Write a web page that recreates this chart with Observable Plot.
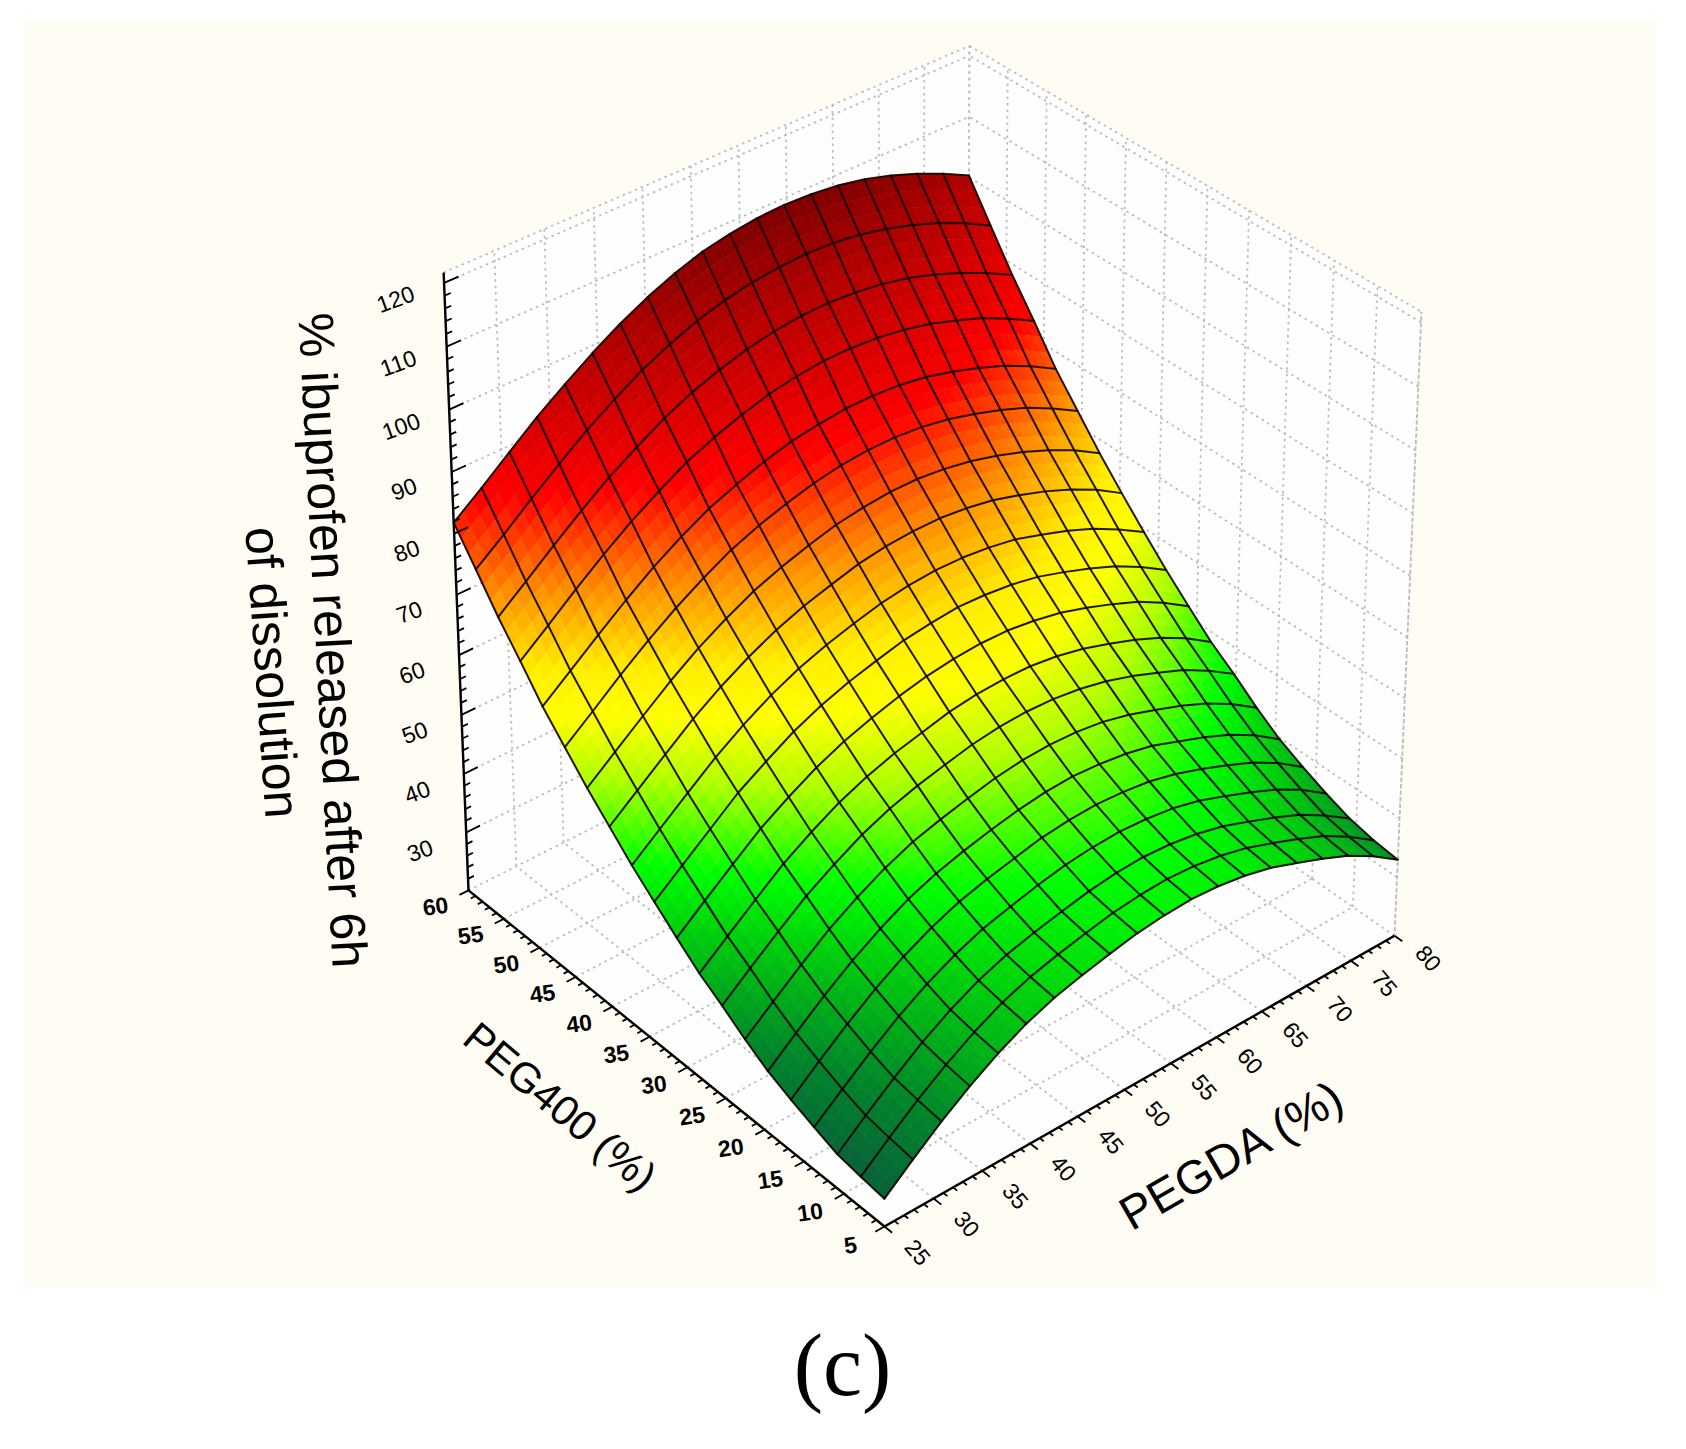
<!DOCTYPE html>
<html>
<head>
<meta charset="utf-8">
<script src="https://cdn.jsdelivr.net/npm/d3@7"></script>
<script src="https://cdn.jsdelivr.net/npm/@observablehq/plot@0.6"></script>
<style>html,body{margin:0;padding:0;background:#fff}svg{display:block}</style>
</head>
<body>
<div id="chart"></div>
<script>
// Axis tick values
const pegdaTicks = [25,30,35,40,45,50,55,60,65,70,75,80];
const peg400Ticks = [5,10,15,20,25,30,35,40,45,50,55,60];
const releaseTicks = [30,40,50,60,70,80,90,100,110,120];
const releaseDomain = [20,121.6];

// % ibuprofen released at each grid node. Rows: PEG400 5 -> 60; columns: PEGDA 25 -> 80.
const release = [
[24.6,28.4,32.0,35.2,38.0,40.3,42.0,43.2,44.2,45.1,45.6,45.8,45.5,44.8,43.7,42.1,40.4,38.5,36.0,33.0],
[25.1,28.9,32.5,35.7,38.5,40.8,42.5,43.7,44.7,45.6,46.1,46.3,46.0,45.3,44.2,42.6,40.9,39.0,36.5,33.5],
[25.7,29.5,33.1,36.4,39.2,41.5,43.2,44.4,45.4,46.3,46.9,47.1,46.8,46.1,45.0,43.4,41.7,39.8,37.3,34.4],
[27.1,30.8,34.4,37.7,40.5,42.8,44.6,45.8,46.9,47.8,48.3,48.5,48.2,47.6,46.5,44.9,43.2,41.3,38.9,35.9],
[28.6,32.4,36.0,39.3,42.1,44.4,46.2,47.5,48.5,49.5,50.0,50.2,49.9,49.3,48.2,46.7,45.0,43.1,40.7,37.7],
[30.3,34.1,37.7,41.0,43.8,46.2,48.0,49.3,50.4,51.3,51.9,52.1,51.8,51.2,50.2,48.6,47.0,45.1,42.7,39.7],
[32.6,36.3,39.9,43.3,46.1,48.5,50.4,51.7,52.8,53.8,54.4,54.6,54.4,53.8,52.7,51.2,49.6,47.7,45.3,42.4],
[35.2,38.9,42.5,45.9,48.7,51.2,53.1,54.5,55.6,56.6,57.2,57.4,57.2,56.6,55.6,54.2,52.5,50.7,48.3,45.5],
[37.6,41.3,44.9,48.4,51.2,53.7,55.6,57.1,58.2,59.3,59.9,60.1,60.0,59.4,58.4,57.0,55.4,53.5,51.2,48.3],
[40.6,44.3,47.9,51.4,54.2,56.7,58.7,60.2,61.5,62.5,63.1,63.4,63.3,62.7,61.8,60.4,58.8,57.0,54.6,51.8],
[43.7,47.3,50.9,54.5,57.3,59.9,61.9,63.5,64.7,65.8,66.4,66.8,66.6,66.1,65.2,63.8,62.2,60.4,58.1,55.4],
[46.9,50.5,54.1,57.6,60.6,63.2,65.3,66.9,68.2,69.3,70.0,70.3,70.2,69.7,68.9,67.5,66.0,64.2,61.9,59.3],
[50.5,54.1,57.7,61.2,64.2,66.8,69.0,70.7,72.0,73.2,73.9,74.2,74.2,73.7,72.9,71.6,70.1,68.3,66.1,63.4],
[54.1,57.7,61.3,64.8,67.9,70.5,72.8,74.5,75.9,77.1,77.8,78.2,78.2,77.7,76.9,75.7,74.2,72.4,70.3,67.7],
[58.1,61.7,65.4,68.8,71.9,74.6,77.0,78.8,80.2,81.4,82.2,82.6,82.6,82.2,81.4,80.2,78.8,77.1,74.9,72.4],
[62.1,65.7,69.3,72.8,76.0,78.8,81.2,83.0,84.6,85.8,86.5,87.0,87.0,86.7,86.0,84.8,83.4,81.7,79.6,77.1],
[66.9,70.5,74.2,77.7,80.9,83.7,86.3,88.2,89.8,91.1,91.9,92.4,92.4,92.1,91.4,90.4,88.9,87.3,85.2,82.8],
[71.5,75.1,78.8,82.3,85.6,88.4,91.0,93.1,94.7,96.0,96.9,97.4,97.5,97.2,96.6,95.6,94.2,92.5,90.5,88.2],
[76.7,80.2,83.9,87.4,90.8,93.7,96.4,98.5,100.3,101.6,102.5,103.0,103.2,103.0,102.4,101.4,100.1,98.5,96.5,94.2],
[81.8,85.3,89.0,92.6,95.8,98.8,101.5,103.8,105.7,107.2,108.1,108.7,108.9,108.7,108.2,107.3,106.0,104.4,102.5,100.3]
];

// Colour ramp of the surface (response -> colour)
const rampValues = [24,32,40,47,55,61,66,74,84,95,100,110];
const rampColors = ["#0a5c3c","#00852a","#00c410","#00ff00","#b0ff00","#ffff00","#ffee00","#ff9000","#ff0000","#c80000","#b00000","#780000"];

// Camera of the box: front floor corner, axis ends, vanishing points
const O=[884,1226],U=[468,890],V=[1394,933],W=[882,576];
const VPu=[-4721,-3303],VPv=[9122,-3470],VPw=[915,12000];
const gu=(U[0]-O[0])/(VPu[0]-U[0]), gv=(V[0]-O[0])/(VPv[0]-V[0]), gw=(W[1]-O[1])/(VPw[1]-W[1]);

const peg400Scale=d3.scaleLinear([5,60],[0,1]);
const pegdaScale=d3.scaleLinear([25,80],[0,1]);
const releaseScale=d3.scaleLinear(releaseDomain,[0,1]);

function project(u,v,w){
  const d=1+gu*u+gv*v+gw*w;
  return [
    (O[0]+gu*VPu[0]*u+gv*VPv[0]*v+gw*VPw[0]*w)/d,
    (O[1]+gu*VPu[1]*u+gv*VPv[1]*v+gw*VPw[1]*w)/d
  ];
}
const P=(a,b,c)=>{const p=project(a,b,c);return {x:p[0],y:p[1]};};

// Walls and floor
const planes=[
  {id:"left", pts:[P(1,0,0),P(1,1,0),P(1,1,1),P(1,0,1)]},
  {id:"right",pts:[P(0,1,0),P(1,1,0),P(1,1,1),P(0,1,1)]},
  {id:"floor",pts:[P(0,0,0),P(1,0,0),P(1,1,0),P(0,1,0)]}
].flatMap(p=>p.pts.map(q=>({...q,id:p.id})));

// Dotted grid
const us=peg400Ticks.map(peg400Scale), vs=pegdaTicks.map(pegdaScale), ws=releaseTicks.map(releaseScale);
const seg=(a,b)=>({x1:a.x,y1:a.y,x2:b.x,y2:b.y});
const grid=[
  ...vs.map(v=>seg(P(1,v,0),P(1,v,1))),
  ...ws.map(w=>seg(P(1,0,w),P(1,1,w))),
  ...us.map(u=>seg(P(u,1,0),P(u,1,1))),
  ...ws.map(w=>seg(P(0,1,w),P(1,1,w))),
  ...vs.map(v=>seg(P(0,v,0),P(1,v,0))),
  ...us.map(u=>seg(P(u,0,0),P(u,1,0))),
  seg(P(1,0,1),P(1,1,1)),seg(P(1,1,1),P(0,1,1)),seg(P(0,1,1),P(0,1,0))
];

// Axis lines and ticks
const axes=[seg(P(0,0,0),P(1,0,0)),seg(P(0,0,0),P(0,1,0)),seg(P(1,0,0),P(1,0,1))];
const ticks=[];
for(let i=0;i<=55;i++){
  const t=i/55, major=i%5===0;
  const e1=P(major?-0.017:-0.009,t,0), s1=P(0,t,0);
  ticks.push({...seg(s1,e1),major});
  const e2=P(t,major?-0.017:-0.009,0), s2=P(t,0,0);
  ticks.push({...seg(s2,e2),major});
}
for(let z=22;z<=120;z+=2){
  const w=releaseScale(z), major=z%10===0, e=P(1,major?0.026:0.011,w), s=P(1,0,w);
  ticks.push({...seg(s,e),major});
}

// Surface
const n=release.length-1, m=release[0].length-1, sub=3;
const bil=(k,j,a,b)=>release[k][j]*(1-a)*(1-b)+release[k+1][j]*a*(1-b)+release[k][j+1]*(1-a)*b+release[k+1][j+1]*a*b;
const tiles=[];
let tid=0;
for(let k=n-1;k>=0;k--) for(let j=m-1;j>=0;j--) for(let a=sub-1;a>=0;a--) for(let b=sub-1;b>=0;b--){
  const pt=(aa,bb)=>{
    const z=bil(k,j,aa/sub,bb/sub);
    return {...P((k+aa/sub)/n,(j+bb/sub)/m,releaseScale(z)),z};
  };
  const c=[pt(a,b),pt(a+1,b),pt(a+1,b+1),pt(a,b+1)];
  const val=d3.mean(c,d=>d.z);
  const id=tid++;
  c.forEach(d=>tiles.push({x:d.x,y:d.y,id,val}));
}
const wire=[];
for(let k=0;k<=n;k++) for(let j=0;j<=m;j++) wire.push({...P(k/n,j/m,releaseScale(release[k][j])),id:"r"+k});
for(let j=0;j<=m;j++) for(let k=0;k<=n;k++) wire.push({...P(k/n,j/m,releaseScale(release[k][j])),id:"c"+j});

const F="Liberation Sans, Arial, sans-serif";
const pegdaLabels=pegdaTicks.map(t=>({...P(-0.072,pegdaScale(t),0),t:String(t)}));
const peg400Labels=peg400Ticks.map(t=>({...P(peg400Scale(t),-0.062,0),t:String(t)}));
const releaseLabels=releaseTicks.map(t=>({...P(1,-0.086,releaseScale(t)),t:String(t)}));

const titles=[
  {x:559,y:1107,t:"PEG400 (%)",r:40,s:42},
  {x:1231,y:1156,t:"PEGDA (%)",r:-30,s:47},
  {x:331,y:640,t:"% ibuprofen released after 6h",r:87,s:50},
  {x:271,y:672,t:"of dissolution",r:86,s:50}
];

const chart=Plot.plot({
  width:1686,height:1449,margin:0,
  style:{background:"#fff"},
  x:{domain:[0,1686],range:[0,1686],axis:null},
  y:{domain:[0,1449],range:[0,1449],axis:null},
  color:{type:"linear",domain:rampValues,range:rampColors},
  marks:[
    Plot.rect([{x1:24,x2:1656,y1:22,y2:1288}],{x1:"x1",x2:"x2",y1:"y1",y2:"y2",fill:"#fffcf3"}),
    Plot.line(planes,{x:"x",y:"y",z:"id",fill:"#fefefe",stroke:"#fefefe",curve:"linear-closed"}),
    Plot.link(grid,{x1:"x1",y1:"y1",x2:"x2",y2:"y2",stroke:"#bdbdbd",strokeWidth:1.8,strokeDasharray:"2.5,4"}),
    Plot.line(tiles,{x:"x",y:"y",z:"id",fill:"val",stroke:"val",strokeWidth:0.7,curve:"linear-closed"}),
    Plot.line(wire,{x:"x",y:"y",z:"id",stroke:"#140500",strokeWidth:2,strokeOpacity:0.92}),
    Plot.link(axes,{x1:"x1",y1:"y1",x2:"x2",y2:"y2",stroke:"#000",strokeWidth:2.4}),
    Plot.link(ticks,{x1:"x1",y1:"y1",x2:"x2",y2:"y2",stroke:"#000",strokeWidth:1.8}),
    Plot.text(pegdaLabels,{x:"x",y:"y",text:"t",rotate:50,fontSize:23,fontFamily:F,fill:"#000"}),
    Plot.text(peg400Labels,{x:"x",y:"y",text:"t",rotate:-8,fontSize:23,fontFamily:F,fontWeight:"bold",fill:"#000"}),
    Plot.text(releaseLabels,{x:"x",y:"y",dy:-4,text:"t",rotate:-20,fontSize:23,fontFamily:F,fill:"#000"}),
    ...titles.map(d=>Plot.text([d],{x:"x",y:"y",text:"t",rotate:d.r,fontSize:d.s,fontFamily:F,fill:"#000"})),
    Plot.text([{x:842,y:1366,t:"(c)"}],{x:"x",y:"y",text:"t",fontSize:88,fontFamily:"Liberation Serif, serif",fill:"#000"})
  ]
});
document.getElementById("chart").append(chart);
</script>
</body>
</html>
